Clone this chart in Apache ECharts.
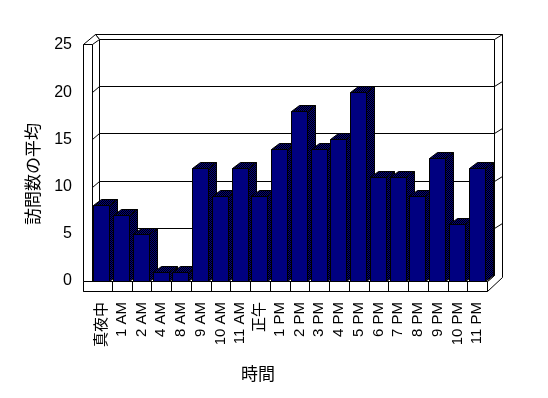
<!DOCTYPE html>
<html><head><meta charset="utf-8">
<script src="https://cdn.jsdelivr.net/npm/echarts@6/dist/echarts.min.js"></script>
<style>html,body{margin:0;padding:0;background:#fff}#c{width:548px;height:398px}</style>
</head><body><div id="c"></div>
<script>
const categories = ['真夜中','1 AM','2 AM','4 AM','8 AM','9 AM','10 AM','11 AM','正午','1 PM','2 PM','3 PM','4 PM','5 PM','6 PM','7 PM','8 PM','9 PM','10 PM','11 PM'];
const values = [8,7,5,1,1,12,9,12,9,14,18,14,15,20,11,11,9,13,6,12];
const yTicks = [0,5,10,15,20,25];
const yAxisTitle = '訪問数の平均';
const xAxisTitle = '時間';

const FONT = "'Liberation Sans', Arial, 'Noto Sans CJK JP', sans-serif";
const CJK = "'Noto Sans CJK JP', sans-serif";

// dithered pattern for side/top faces
const pc = document.createElement('canvas');
pc.width = 2; pc.height = 2;
const pctx = pc.getContext('2d');
pctx.fillStyle = '#000080'; pctx.fillRect(0,0,2,2);
pctx.fillStyle = '#000000'; pctx.fillRect(0,0,1,1); pctx.fillRect(1,1,1,1);
const shade = {image: pc, repeat: 'repeat'};

const BDX = 8, BDY = -6;   // bar depth
const WDX = 7, WDY = -6;   // back wall offset
const R = v => Math.round(v) + 0.5;
const line = (x1,y1,x2,y2) => ({type:'line', shape:{x1:R(x1),y1:R(y1),x2:R(x2),y2:R(y2)}, style:{stroke:'#000', lineWidth:1}});
const poly = (pts, fill) => ({type:'polygon', shape:{points:pts.map(p=>[R(p[0]),R(p[1])])}, style:{fill:fill, stroke:'#000', lineWidth:1}});

function renderFrame(params, api) {
  const cs = params.coordSys;
  const x0 = cs.x, x1 = cs.x + cs.width;
  const yTop = api.coord([0, yTicks[yTicks.length-1]])[1];
  const yBot = api.coord([0, 0])[1];
  const lw = 9, fl = 10;
  const ch = [];
  // back wall (white)
  ch.push(poly([[x0+WDX, yTop+WDY],[x1+WDX, yTop+WDY],[x1+WDX, yBot+WDY],[x0+WDX, yBot+WDY]], '#fff'));
  // back wall thickness top and right
  ch.push(poly([[x0-lw+12, yTop-11],[x1+WDX+8, yTop-11],[x1+WDX+8, yBot+fl-14],[x1, yBot+fl],[x1, yBot],[x1+WDX, yBot+WDY],[x1+WDX, yTop+WDY],[x0+WDX, yTop+WDY]], '#fff'));
  ch.push(line(x1+WDX, yTop+WDY, x1+WDX+8, yTop-11));
  // left wall top
  ch.push(poly([[x0-lw, yTop-1],[x0-lw+12, yTop-11],[x0+WDX, yTop+WDY],[x0, yTop-1]], '#fff'));
  // gridlines
  yTicks.forEach(t => {
    if (t === 0 || t === yTicks[yTicks.length-1]) return;
    const y = api.coord([0, t])[1];
    ch.push(line(x0-lw, y, x0, y));
    ch.push(line(x0, y, x0+WDX, y+WDY));
    ch.push(line(x0+WDX, y+WDY, x1+WDX, y+WDY));
    ch.push(line(x1+WDX, y+WDY, x1+WDX+8, y+WDY-5));
  });
  // floor top
  ch.push(poly([[x0, yBot],[x0+WDX, yBot+WDY],[x1+WDX, yBot+WDY],[x1, yBot]], '#fff'));
  // left wall front face
  ch.push(poly([[x0-lw, yTop-1],[x0, yTop-1],[x0, yBot+fl],[x0-lw, yBot+fl]], '#fff'));
  // floor front face
  ch.push(poly([[x0-lw, yBot],[x1, yBot],[x1, yBot+fl],[x0-lw, yBot+fl]], '#fff'));
  // category boundaries on the floor front
  const bw = api.size([1,0])[0];
  for (let i = 1; i < categories.length; i++) {
    const x = x0 + bw*i;
    ch.push(line(x, yBot, x, yBot+fl));
  }
  return {type:'group', children: ch};
}

function renderBar(params, api) {
  const i = api.value(0), v = api.value(1);
  const top = api.coord([i, v]);
  const base = api.coord([i, 0]);
  const bw = api.size([1,0])[0];
  const left = top[0] - bw*0.43;
  const w = bw*0.81;
  const t = top[1], b = base[1];
  return {type:'group', children:[
    poly([[left+w, t],[left+w+BDX, t+BDY],[left+w+BDX, b+BDY],[left+w, b]], shade),
    poly([[left, t],[left+BDX, t+BDY],[left+w+BDX, t+BDY],[left+w, t]], shade),
    poly([[left, t],[left+w, t],[left+w, b],[left, b]], '#000080')
  ]};
}

const chart = echarts.init(document.getElementById('c'), null, {renderer:'canvas'});
chart.setOption({
  backgroundColor: '#fff',
  animation: false,
  grid: {left: 92, right: 61, top: 45, bottom: 117, containLabel: false},
  xAxis: {
    type: 'category', data: categories,
    axisLine: {show:false}, axisTick: {show:false}, splitLine: {show:false},
    axisLabel: {interval: 0, rotate: 90, margin: 21, color: '#000', fontSize: 15, fontFamily: FONT, padding: [0,0,6,0]}
  },
  yAxis: {
    type: 'value', min: 0, max: 25, interval: 5,
    axisLine: {show:false}, axisTick: {show:false}, splitLine: {show:false},
    axisLabel: {margin: 20, color: '#000', fontSize: 16, fontFamily: FONT}
  },
  graphic: [
    {type:'text', left: 241, top: 365, style:{text: xAxisTitle, fill:'#000', fontSize: 17, fontFamily: CJK}},
    {type:'text', x: 33, y: 174, rotation: Math.PI/2, style:{text: yAxisTitle, fill:'#000', fontSize: 17, fontFamily: CJK, align:'center', verticalAlign:'middle'}}
  ],
  series: [
    {type:'custom', clip:false, silent:true, data:[[0,0]], renderItem: renderFrame, z: 1},
    {type:'custom', clip:false, silent:true, data: values.map((v,i)=>[i,v]), renderItem: renderBar, z: 2}
  ]
});
</script>
</body></html>
